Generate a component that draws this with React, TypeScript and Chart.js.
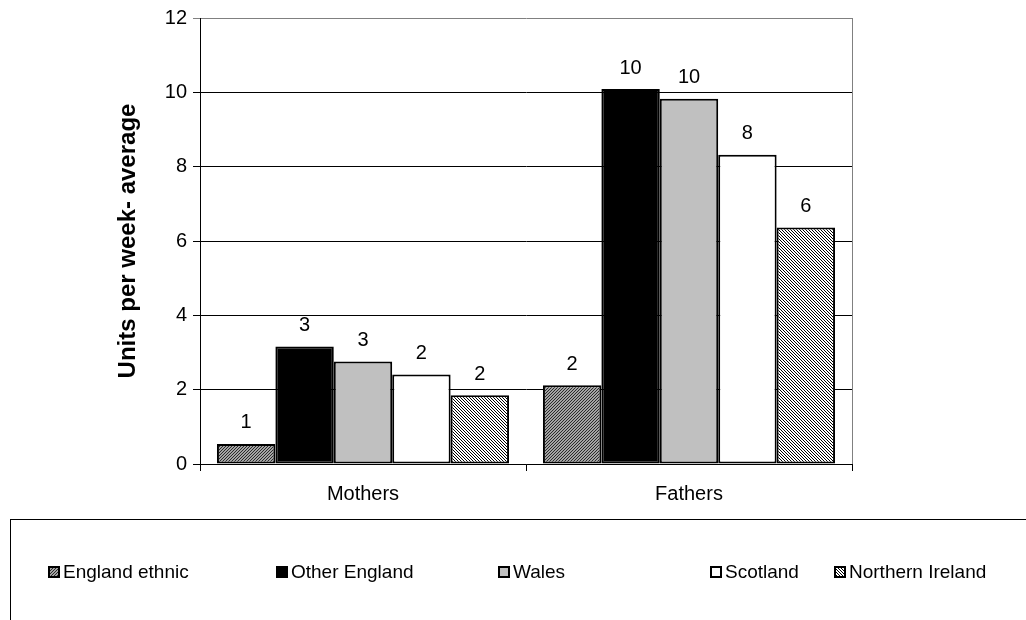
import React, { useEffect, useRef } from "react";
import { Chart, registerables } from "chart.js";

Chart.register(...registerables);

const categories = ["Mothers", "Fathers"];
const seriesNames = ["England ethnic", "Other England", "Wales", "Scotland", "Northern Ireland"];
const englandEthnic = [0.54, 2.12];
const otherEngland = [3.16, 10.09];
const wales = [2.76, 9.83];
const scotland = [2.41, 8.32];
const northernIreland = [1.85, 6.36];
const yMin = 0;
const yMax = 12;
const yStep = 2;
const yTitle = "Units per week- average";

const FONT = "'Liberation Sans', Arial, Helvetica, sans-serif";

function makePattern(fg: string, bg: string, size: number, dir: "/" | "\\") {
  const c = document.createElement("canvas");
  c.width = size;
  c.height = size;
  const g = c.getContext("2d")!;
  g.fillStyle = bg;
  g.fillRect(0, 0, size, size);
  g.fillStyle = fg;
  for (let i = 0; i < size; i++) {
    const x = dir === "\\" ? i : size - 1 - i;
    g.fillRect(x, i, 1, 1);
  }
  return g.createPattern(c, "repeat") as CanvasPattern;
}

export default function App() {
  const ref = useRef<HTMLCanvasElement | null>(null);

  useEffect(() => {
    if (!ref.current) return;
    const eePattern = makePattern("#2a2a2a", "#a4a4a4", 3, "/");
    const niPattern = makePattern("#000000", "#ffffff", 3, "\\");
    const fills: (string | CanvasPattern)[] = [eePattern, "#000000", "#c0c0c0", "#ffffff", niPattern];
    const values = [englandEthnic, otherEngland, wales, scotland, northernIreland];

    const labelsPlugin = {
      id: "valueLabels",
      afterDatasetsDraw(chart: any) {
        const ctx = chart.ctx;
        ctx.save();
        ctx.font = `20px ${FONT}`;
        ctx.fillStyle = "#000";
        ctx.textAlign = "center";
        ctx.textBaseline = "middle";
        chart.data.datasets.forEach((ds: any, di: number) => {
          const meta = chart.getDatasetMeta(di);
          meta.data.forEach((el: any, i: number) => {
            const v = ds.data[i] as number;
            ctx.fillText(String(Math.round(v)), el.x, el.y - 21);
          });
        });
        ctx.restore();
      },
    };

    const framePlugin = {
      id: "frame",
      beforeDatasetsDraw(chart: any) {
        const { ctx, chartArea } = chart;
        ctx.save();
        ctx.strokeStyle = "#808080";
        ctx.lineWidth = 1;
        ctx.beginPath();
        const r = Math.round(chartArea.right) + 0.5;
        ctx.moveTo(r, chartArea.top);
        ctx.lineTo(r, chartArea.bottom);
        ctx.stroke();
        ctx.restore();
      },
    };

    const legendPlugin = {
      id: "boxLegend",
      afterDraw(chart: any) {
        const ctx = chart.ctx;
        ctx.save();
        ctx.strokeStyle = "#000";
        ctx.lineWidth = 1;
        ctx.strokeRect(10.5, 519.5, 1100, 200);
        const xs = [48, 276, 498, 710, 834];
        const cy = 572;
        ctx.font = `19px ${FONT}`;
        ctx.textBaseline = "middle";
        ctx.textAlign = "left";
        chart.data.datasets.forEach((ds: any, i: number) => {
          const x = xs[i];
          ctx.fillStyle = ds.backgroundColor;
          ctx.fillRect(x, cy - 6, 12, 12);
          ctx.strokeStyle = "#000";
          ctx.lineWidth = 2;
          ctx.strokeRect(x + 1, cy - 5, 10, 10);
          ctx.fillStyle = "#000";
          ctx.fillText(ds.label, x + 15, cy + 1);
        });
        ctx.restore();
      },
    };

    const chart = new Chart(ref.current, {
      type: "bar",
      data: {
        labels: categories,
        datasets: seriesNames.map((name, i) => ({
          label: name,
          data: values[i],
          backgroundColor: fills[i] as any,
          borderColor: "#000000",
          borderWidth: 2,
          borderSkipped: false,
          categoryPercentage: 0.896,
          barPercentage: 1.0,
        })),
      },
      options: {
        responsive: false,
        animation: false,
        devicePixelRatio: 1,
        layout: { padding: { top: 17, right: 174, left: 0, bottom: 0 } },
        plugins: {
          legend: { display: false },
          tooltip: { enabled: false },
        },
        scales: {
          x: {
            grid: {
              offset: true,
              drawOnChartArea: false,
              drawTicks: true,
              tickLength: 7,
              color: "#000",
            },
            border: { color: "#000", width: 1 },
            ticks: {
              color: "#000",
              font: { family: FONT, size: 20 },
              padding: 11,
            },
            afterFit(scale: any) {
              scale.height = 156;
            },
          },
          y: {
            min: yMin,
            max: yMax,
            ticks: {
              stepSize: yStep,
              color: "#000",
              font: { family: FONT, size: 20 },
              padding: 6,
            },
            grid: {
              color: (c: any) => (c.tick && c.tick.value === yMax ? "#808080" : "#000"),
              tickLength: 7,
              lineWidth: 1,
            },
            border: { color: "#000", width: 1 },
            title: {
              display: true,
              text: yTitle,
              color: "#000",
              font: { family: FONT, size: 24, weight: "bold" },
              padding: { top: 114, bottom: 0 },
            },
            afterFit(scale: any) {
              scale.width = 200;
            },
          },
        },
      },
      plugins: [framePlugin, labelsPlugin, legendPlugin],
    });
    return () => chart.destroy();
  }, []);

  return (
    <div style={{ position: "absolute", left: 0, top: 0, width: 1026, height: 620, background: "#fff" }}>
      <canvas ref={ref} width={1026} height={620} style={{ width: 1026, height: 620, display: "block" }} />
    </div>
  );
}
